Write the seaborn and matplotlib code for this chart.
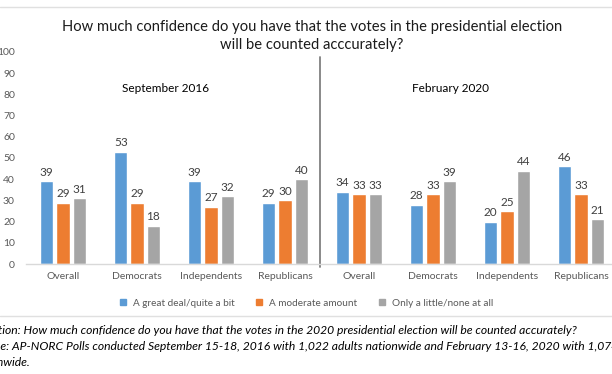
import matplotlib
matplotlib.use("Agg")
import matplotlib.pyplot as plt
import seaborn as sns
import pandas as pd
from matplotlib.lines import Line2D

# ---- data ----
groups = ["Overall 2016", "Democrats 2016", "Independents 2016", "Republicans 2016",
          "Overall 2020", "Democrats 2020", "Independents 2020", "Republicans 2020"]
tick_labels = ["Overall", "Democrats", "Independents", "Republicans",
               "Overall", "Democrats", "Independents", "Republicans"]
series = ["A great deal/quite a bit", "A moderate amount", "Only a little/none at all"]
great_deal = [39, 53, 39, 29, 34, 28, 20, 46]
moderate = [29, 29, 27, 30, 33, 33, 25, 33]
little_none = [31, 18, 32, 40, 33, 39, 44, 21]
colors = ["#5B9BD5", "#ED7D31", "#A5A5A5"]
panel_titles = ["September 2016", "February 2020"]
title = "How much confidence do you have that the votes in the presidential election\nwill be counted acccurately?"
footnotes = [
    "Question: How much confidence do you have that the votes in the 2020 presidential election will be counted accurately?",
    "Source: AP-NORC Polls conducted September 15-18, 2016 with 1,022 adults nationwide and February 13-16, 2020 with 1,074 adults",
    "nationwide.",
]

rows = []
for vals, s in zip([great_deal, moderate, little_none], series):
    for g, v in zip(groups, vals):
        rows.append({"group": g, "series": s, "value": v})
df = pd.DataFrame(rows)

sns.set_theme(style="white")
FONT = "Lato"
plt.rcParams["font.family"] = [FONT, "DejaVu Sans"]

fig = plt.figure(figsize=(6.12, 3.74), dpi=100)
ax = fig.add_axes([26 / 612, 110 / 374, 592 / 612, 212 / 374])

sns.barplot(data=df, x="group", y="value", hue="series", order=groups,
            hue_order=series, palette=colors, width=0.66, gap=0.2,
            ax=ax, legend=False, saturation=1)

for cont in ax.containers:
    ax.bar_label(cont, padding=2.5, fontsize=8.5, color="#404040")

ax.set_xlim(-0.5, 7.5)
ax.set_ylim(0, 100)
ax.set_yticks(range(0, 101, 10))
ax.tick_params(axis="y", labelsize=7.5, labelcolor="#595959", length=0, pad=8)
ax.set_xticks(range(len(groups)))
ax.set_xticklabels(tick_labels)
ax.tick_params(axis="x", labelsize=7.5, labelcolor="#595959", length=0, pad=6)
ax.set_xlabel("")
ax.set_ylabel("")
for sp in ["top", "right", "left"]:
    ax.spines[sp].set_visible(False)
ax.spines["bottom"].set_color("#D9D9D9")
ax.spines["bottom"].set_linewidth(1)

# divider between the two polls
ax.axvline(3.47, ymin=-0.015, ymax=0.975, color="#808080", lw=1.3, clip_on=False)

ax.text(1.39, 83, panel_titles[0], ha="center", va="center", fontsize=8.5, color="#000000")
ax.text(5.23, 83, panel_titles[1], ha="center", va="center", fontsize=8.5, color="#000000")

fig.text(312 / 612, 1 - 36 / 374, title, ha="center", va="center", fontsize=10.6,
         color="#1A1A1A", linespacing=1.3)

handles = [Line2D([0], [0], marker="s", linestyle="", markersize=5,
                  markerfacecolor=c, markeredgecolor=c) for c in colors]
fig.legend(handles, series, loc="center", bbox_to_anchor=(303 / 612, 1 - 303 / 374),
           ncol=3, frameon=False, fontsize=7.2, handletextpad=0.05, columnspacing=1.4,
           labelcolor="#595959")

# separator lines
fig.add_artist(Line2D([0, 1], [1 - 7 / 374, 1 - 7 / 374], transform=fig.transFigure,
                      color="#E0E0E0", lw=1))
fig.add_artist(Line2D([0, 1], [1 - 316 / 374, 1 - 316 / 374], transform=fig.transFigure,
                      color="#E0E0E0", lw=1))

for i, (t, y) in enumerate(zip(footnotes, [330, 346, 362])):
    fig.text(-28 / 612, 1 - y / 374, t, ha="left", va="center", fontsize=8.7,
             style="italic", color="#000000")

fig.savefig("out.png", dpi=100)
